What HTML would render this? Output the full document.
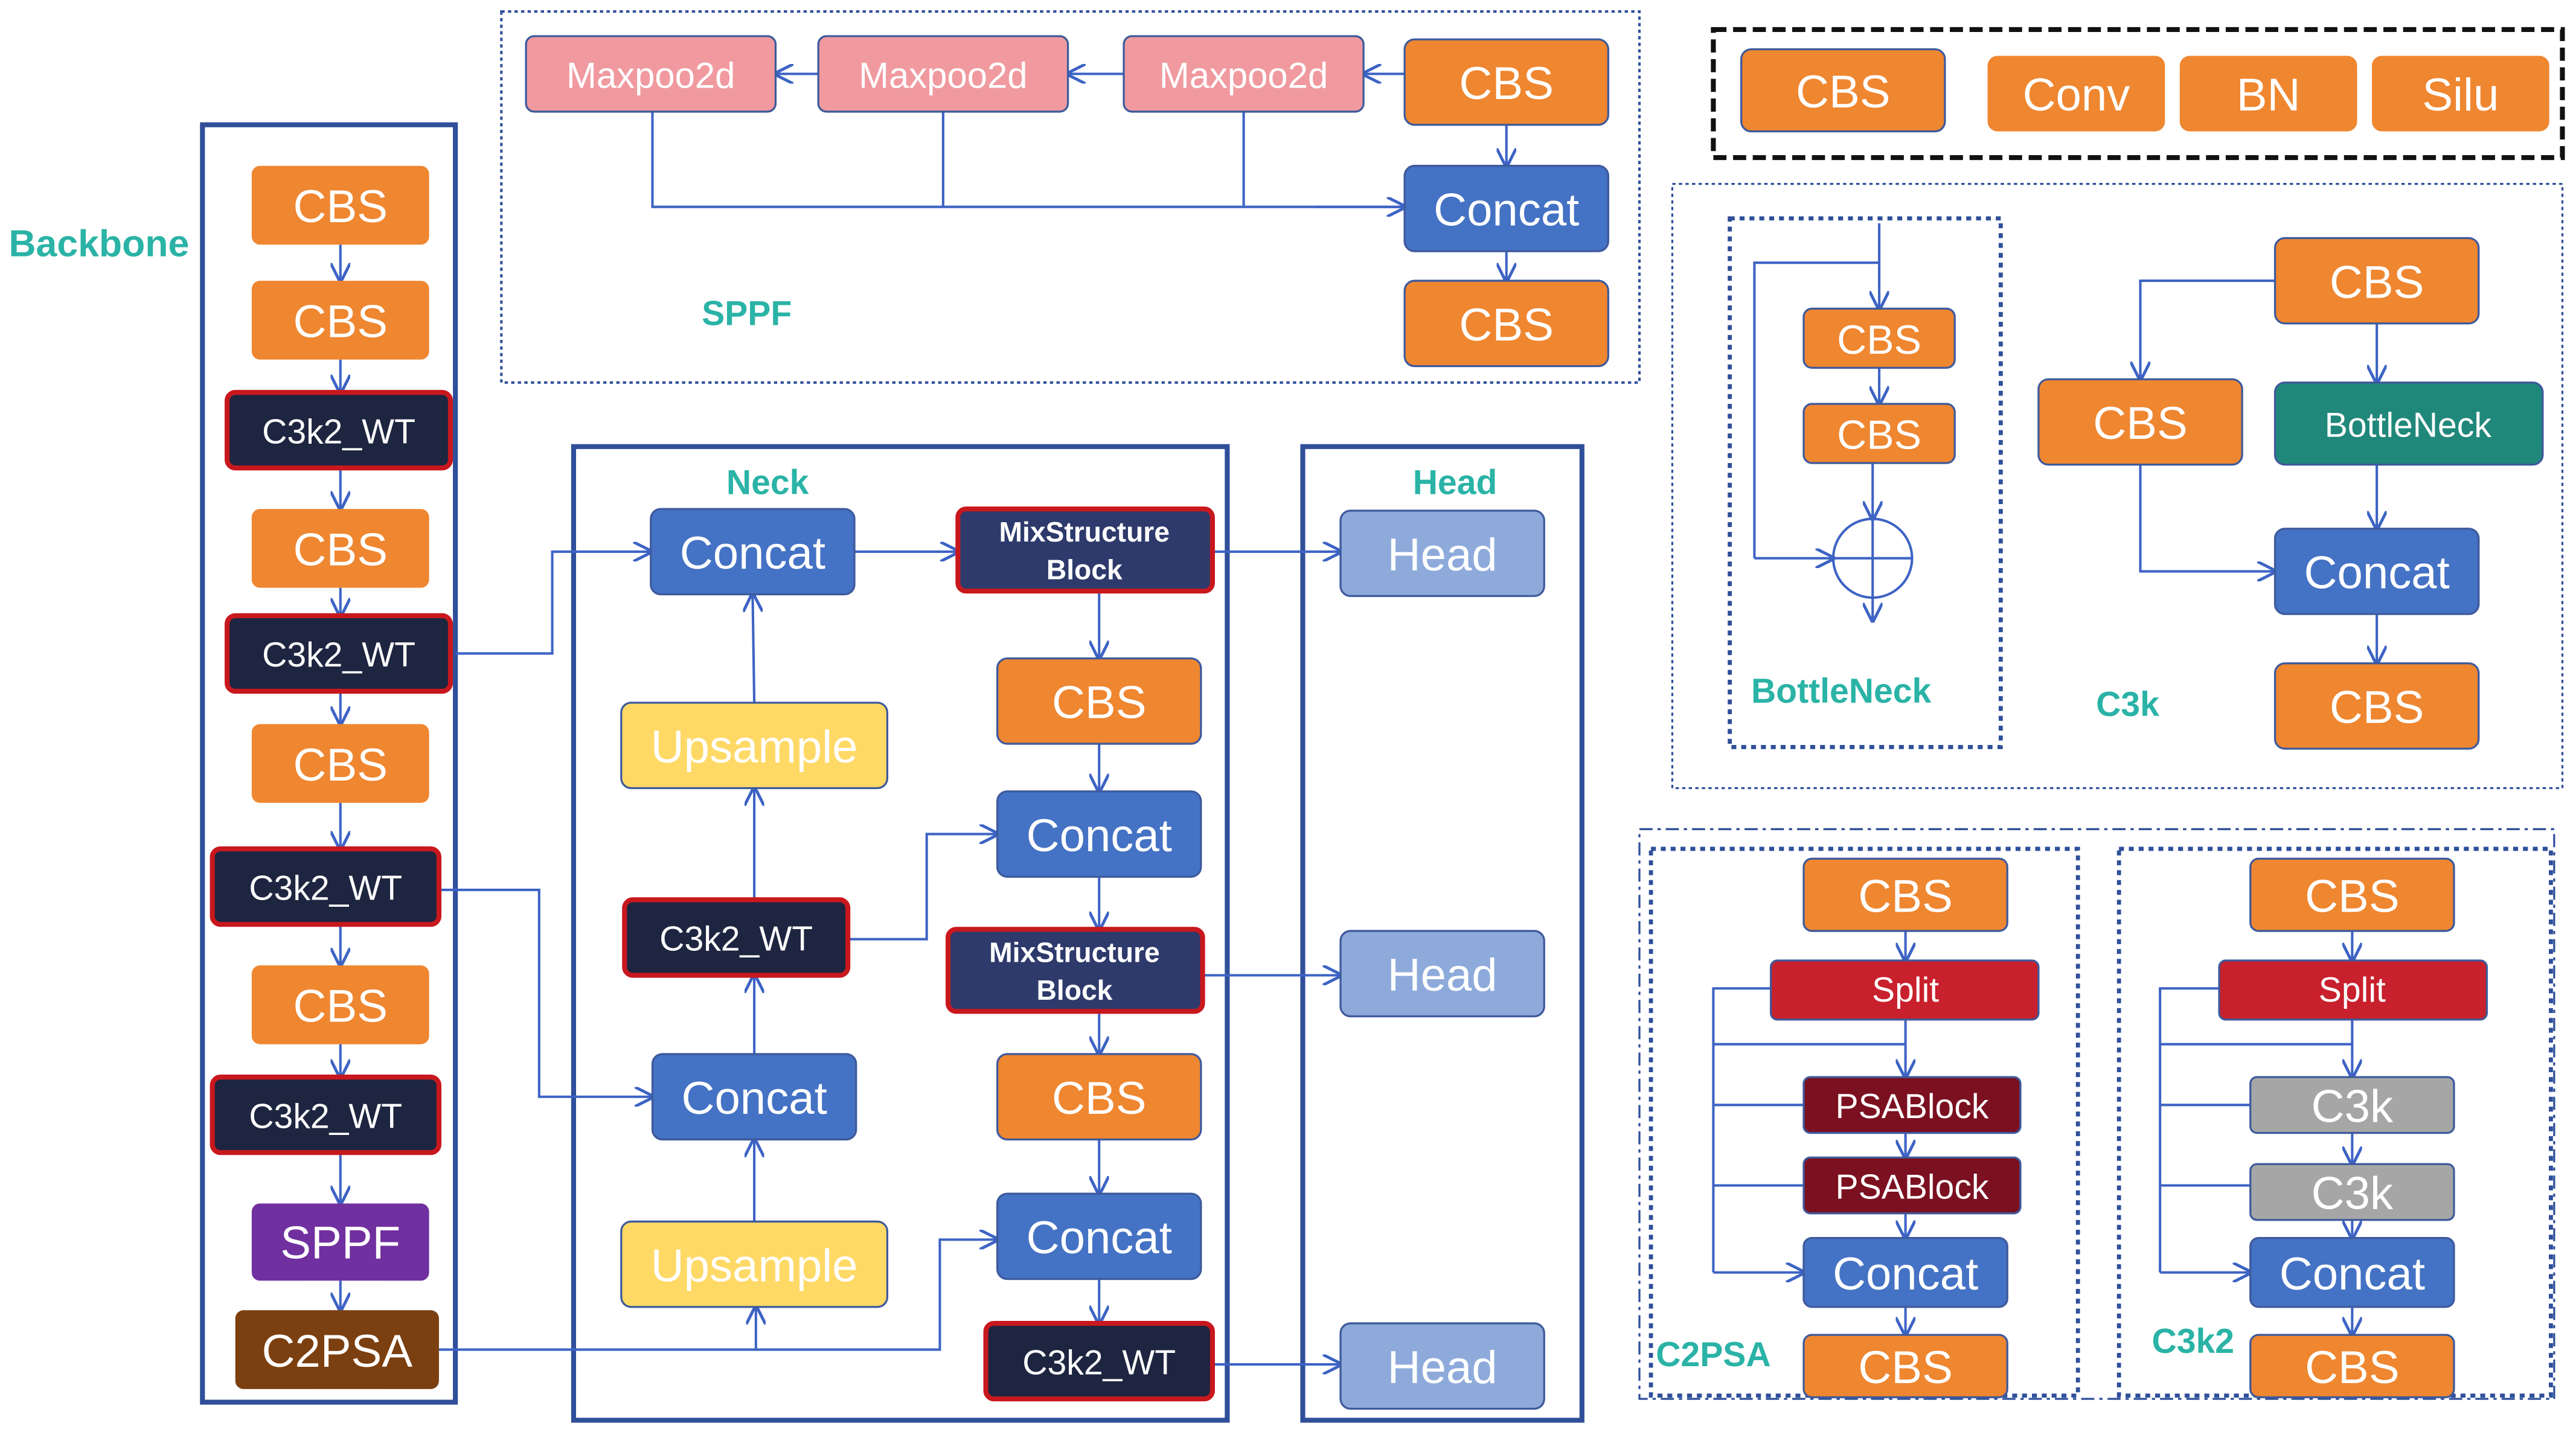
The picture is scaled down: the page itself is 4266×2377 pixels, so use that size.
<!DOCTYPE html>
<html><head><meta charset="utf-8"><style>
html,body{margin:0;padding:0;background:#fff;}
svg{display:block;}
text{font-family:"Liberation Sans",sans-serif;}
.t{fill:#fff;text-anchor:middle;dominant-baseline:central;}
.l{stroke:#3d63c4;stroke-width:1.5;fill:none;}
.a{stroke:#3d63c4;stroke-width:1.5;fill:none;marker-end:url(#ar);}
.lab{fill:#2ab3a6;font-weight:bold;font-size:21px;}
</style></head><body>
<svg width="4266" height="2377" viewBox="0 0 1568 874" xmlns="http://www.w3.org/2000/svg">
<defs><marker id="ar" viewBox="0 0 10 10" refX="9" refY="5" markerWidth="8" markerHeight="8" orient="auto-start-reverse"><path d="M0,0 L10,5 L0,10" fill="none" stroke="#3d63c4" stroke-width="1.5"/></marker></defs>
<rect width="1568" height="874" fill="#fff"/>

<!-- frames -->
<rect x="123" y="76" width="154" height="778" fill="none" stroke="#2f4f9a" stroke-width="3"/>
<rect x="349" y="272" width="398" height="593" fill="none" stroke="#2f4f9a" stroke-width="3"/>
<rect x="793" y="272" width="170" height="593" fill="none" stroke="#2f4f9a" stroke-width="3"/>
<rect x="305" y="7" width="693" height="226" fill="none" stroke="#2f4f9a" stroke-width="1.5" stroke-dasharray="2,2"/>
<rect x="1043" y="18" width="517" height="78" fill="none" stroke="#111" stroke-width="3" stroke-dasharray="8,4"/>
<rect x="1018" y="112" width="542" height="368" fill="none" stroke="#2f4f9a" stroke-width="1.2" stroke-dasharray="2,2"/>
<rect x="1053" y="133" width="165" height="322" fill="none" stroke="#2f4f9a" stroke-width="2.5" stroke-dasharray="3,3"/>
<rect x="998" y="505" width="557" height="347" fill="none" stroke="#2f4f9a" stroke-width="1.2" stroke-dasharray="8,3,2,3"/>
<rect x="1005" y="517" width="260" height="333" fill="none" stroke="#2f4f9a" stroke-width="2.5" stroke-dasharray="3,3"/>
<rect x="1290" y="517" width="263" height="333" fill="none" stroke="#2f4f9a" stroke-width="2.5" stroke-dasharray="3,3"/>

<!-- labels -->
<text x="5" y="156" class="lab" style="font-size:23px">Backbone</text>
<text x="427" y="198" class="lab">SPPF</text>
<text x="442" y="301" class="lab">Neck</text>
<text x="860" y="301" class="lab">Head</text>
<text x="1066" y="428" class="lab">BottleNeck</text>
<text x="1276" y="436" class="lab">C3k</text>
<text x="1008" y="832" class="lab">C2PSA</text>
<text x="1310" y="824" class="lab">C3k2</text>

<!-- connectors -->
<g>
<line class="a" x1="207" y1="149" x2="207" y2="171"/>
<line class="a" x1="207" y1="219" x2="207" y2="239"/>
<line class="a" x1="207" y1="285" x2="207" y2="310"/>
<line class="a" x1="207" y1="358" x2="207" y2="375"/>
<line class="a" x1="207" y1="421" x2="207" y2="441"/>
<line class="a" x1="207" y1="489" x2="207" y2="517"/>
<line class="a" x1="207" y1="563" x2="207" y2="588"/>
<line class="a" x1="207" y1="636" x2="207" y2="656"/>
<line class="a" x1="207" y1="702" x2="207" y2="733"/>
<line class="a" x1="207" y1="780" x2="207" y2="798"/>
<!-- sppf -->
<line class="a" x1="855" y1="45" x2="830" y2="45"/>
<line class="a" x1="684" y1="45" x2="650" y2="45"/>
<line class="a" x1="498" y1="45" x2="472" y2="45"/>
<polyline class="l" points="397,68 397,126 855,126"/>
<line class="l" x1="574" y1="68" x2="574" y2="126"/>
<line class="l" x1="757" y1="68" x2="757" y2="126"/>
<line class="a" x1="800" y1="126" x2="855" y2="126"/>
<line class="a" x1="917" y1="76" x2="917" y2="101"/>
<line class="a" x1="917" y1="153" x2="917" y2="171"/>
<!-- neck -->
<polyline class="a" points="277,398 336,398 336,336 396,336"/>
<polyline class="a" points="267,542 328,542 328,668 397,668"/>
<polyline class="a" points="267,822 460,822 460,796"/>
<polyline class="a" points="460,822 572,822 572,755 607,755"/>
<line class="a" x1="520" y1="336" x2="583" y2="336"/>
<line class="a" x1="738" y1="336" x2="816" y2="336"/>
<line class="a" x1="669" y1="360" x2="669" y2="401"/>
<line class="a" x1="669" y1="453" x2="669" y2="482"/>
<line class="a" x1="669" y1="534" x2="669" y2="566"/>
<line class="a" x1="669" y1="616" x2="669" y2="642"/>
<line class="a" x1="669" y1="694" x2="669" y2="727"/>
<line class="a" x1="669" y1="779" x2="669" y2="806"/>
<line class="a" x1="732" y1="594" x2="816" y2="594"/>
<line class="a" x1="738" y1="831" x2="816" y2="831"/>
<line class="a" x1="459" y1="428" x2="458" y2="362"/>
<line class="a" x1="459" y1="548" x2="459" y2="480"/>
<line class="a" x1="459" y1="642" x2="459" y2="594"/>
<line class="a" x1="459" y1="744" x2="459" y2="694"/>
<polyline class="a" points="516,572 564,572 564,508 607,508"/>
<!-- bottleneck -->
<line class="a" x1="1144" y1="136" x2="1144" y2="188"/>
<polyline class="l" points="1144,160 1068,160 1068,340"/>
<line class="a" x1="1068" y1="340" x2="1116" y2="340"/>
<line class="a" x1="1144" y1="224" x2="1144" y2="246"/>
<line class="a" x1="1140" y1="282" x2="1140" y2="316"/>
<line class="a" x1="1140" y1="364" x2="1140" y2="378"/>
<circle cx="1140" cy="340" r="24" fill="none" stroke="#3d63c4" stroke-width="1.5"/>
<line class="l" x1="1116" y1="340" x2="1164" y2="340"/><line class="l" x1="1140" y1="316" x2="1140" y2="364"/>
<!-- c3k -->
<polyline class="a" points="1385,171 1303,171 1303,231"/>
<line class="a" x1="1447" y1="197" x2="1447" y2="233"/>
<line class="a" x1="1447" y1="283" x2="1447" y2="322"/>
<polyline class="a" points="1303,283 1303,348 1385,348"/>
<line class="a" x1="1447" y1="374" x2="1447" y2="404"/>
<!-- c2psa -->
<line class="a" x1="1160" y1="567" x2="1160" y2="585"/>
<line class="a" x1="1160" y1="621" x2="1160" y2="656"/>
<line class="a" x1="1160" y1="690" x2="1160" y2="705"/>
<line class="a" x1="1160" y1="739" x2="1160" y2="754"/>
<line class="a" x1="1160" y1="796" x2="1160" y2="813"/>
<polyline class="l" points="1078,602 1043,602 1043,775"/>
<line class="l" x1="1043" y1="636" x2="1160" y2="636"/>
<line class="l" x1="1043" y1="673" x2="1098" y2="673"/>
<line class="l" x1="1043" y1="722" x2="1098" y2="722"/>
<line class="a" x1="1043" y1="775" x2="1098" y2="775"/>
<!-- c3k2 -->
<line class="a" x1="1432" y1="567" x2="1432" y2="585"/>
<line class="a" x1="1432" y1="621" x2="1432" y2="656"/>
<line class="a" x1="1432" y1="690" x2="1432" y2="709"/>
<line class="a" x1="1432" y1="743" x2="1432" y2="754"/>
<line class="a" x1="1432" y1="796" x2="1432" y2="813"/>
<polyline class="l" points="1351,602 1315,602 1315,775"/>
<line class="l" x1="1315" y1="636" x2="1432" y2="636"/>
<line class="l" x1="1315" y1="673" x2="1370" y2="673"/>
<line class="l" x1="1315" y1="722" x2="1370" y2="722"/>
<line class="a" x1="1315" y1="775" x2="1370" y2="775"/>
</g>

<!-- nodes -->
<g stroke="#3e5a9c" stroke-width="1.2">
<rect x="153" y="101" width="108" height="48" rx="5" fill="#ef8630" stroke="none"/>
<rect x="153" y="171" width="108" height="48" rx="5" fill="#ef8630" stroke="none"/>
<rect x="138" y="239" width="136" height="46" rx="5" fill="#1e2540" stroke="#c8181e" stroke-width="3"/>
<rect x="153" y="310" width="108" height="48" rx="5" fill="#ef8630" stroke="none"/>
<rect x="138" y="375" width="136" height="46" rx="5" fill="#1e2540" stroke="#c8181e" stroke-width="3"/>
<rect x="153" y="441" width="108" height="48" rx="5" fill="#ef8630" stroke="none"/>
<rect x="129" y="517" width="138" height="46" rx="5" fill="#1e2540" stroke="#c8181e" stroke-width="3"/>
<rect x="153" y="588" width="108" height="48" rx="5" fill="#ef8630" stroke="none"/>
<rect x="129" y="656" width="138" height="46" rx="5" fill="#1e2540" stroke="#c8181e" stroke-width="3"/>
<rect x="153" y="733" width="108" height="47" rx="5" fill="#7030a0" stroke="none"/>
<rect x="143" y="798" width="124" height="48" rx="5" fill="#7b3f10" stroke="none"/>
<rect x="320" y="22" width="152" height="46" rx="5" fill="#f09aa0"/>
<rect x="498" y="22" width="152" height="46" rx="5" fill="#f09aa0"/>
<rect x="684" y="22" width="146" height="46" rx="5" fill="#f09aa0"/>
<rect x="855" y="24" width="124" height="52" rx="6" fill="#ef8630"/>
<rect x="855" y="101" width="124" height="52" rx="6" fill="#4472c4"/>
<rect x="855" y="171" width="124" height="52" rx="6" fill="#ef8630"/>
<rect x="1060" y="30" width="124" height="50" rx="6" fill="#ef8630"/>
<rect x="1210" y="34" width="108" height="46" rx="6" fill="#ef8630" stroke="none"/>
<rect x="1327" y="34" width="108" height="46" rx="6" fill="#ef8630" stroke="none"/>
<rect x="1444" y="34" width="108" height="46" rx="6" fill="#ef8630" stroke="none"/>
<rect x="1098" y="188" width="92" height="36" rx="5" fill="#ef8630"/>
<rect x="1098" y="246" width="92" height="36" rx="5" fill="#ef8630"/>
<rect x="1385" y="145" width="124" height="52" rx="6" fill="#ef8630"/>
<rect x="1241" y="231" width="124" height="52" rx="6" fill="#ef8630"/>
<rect x="1385" y="233" width="163" height="50" rx="6" fill="#20887a"/>
<rect x="1385" y="322" width="124" height="52" rx="6" fill="#4472c4"/>
<rect x="1385" y="404" width="124" height="52" rx="6" fill="#ef8630"/>
<rect x="396" y="310" width="124" height="52" rx="6" fill="#4472c4"/>
<rect x="583" y="310" width="155" height="50" rx="5" fill="#2e3a6b" stroke="#c8181e" stroke-width="3"/>
<rect x="607" y="401" width="124" height="52" rx="6" fill="#ef8630"/>
<rect x="378" y="428" width="162" height="52" rx="6" fill="#ffd966"/>
<rect x="607" y="482" width="124" height="52" rx="6" fill="#4472c4"/>
<rect x="380" y="548" width="136" height="46" rx="5" fill="#1e2540" stroke="#c8181e" stroke-width="3"/>
<rect x="577" y="566" width="155" height="50" rx="5" fill="#2e3a6b" stroke="#c8181e" stroke-width="3"/>
<rect x="607" y="642" width="124" height="52" rx="6" fill="#ef8630"/>
<rect x="397" y="642" width="124" height="52" rx="6" fill="#4472c4"/>
<rect x="378" y="744" width="162" height="52" rx="6" fill="#ffd966"/>
<rect x="607" y="727" width="124" height="52" rx="6" fill="#4472c4"/>
<rect x="600" y="806" width="138" height="46" rx="5" fill="#1e2540" stroke="#c8181e" stroke-width="3"/>
<rect x="816" y="311" width="124" height="52" rx="6" fill="#8eaadb"/>
<rect x="816" y="567" width="124" height="52" rx="6" fill="#8eaadb"/>
<rect x="816" y="806" width="124" height="52" rx="6" fill="#8eaadb"/>
<rect x="1098" y="523" width="124" height="44" rx="5" fill="#ef8630"/>
<rect x="1078" y="585" width="163" height="36" rx="4" fill="#c8202c"/>
<rect x="1098" y="656" width="132" height="34" rx="4" fill="#7b1020"/>
<rect x="1098" y="705" width="132" height="34" rx="4" fill="#7b1020"/>
<rect x="1098" y="754" width="124" height="42" rx="5" fill="#4472c4"/>
<rect x="1098" y="813" width="124" height="38" rx="5" fill="#ef8630"/>
<rect x="1370" y="523" width="124" height="44" rx="5" fill="#ef8630"/>
<rect x="1351" y="585" width="163" height="36" rx="4" fill="#c8202c"/>
<rect x="1370" y="656" width="124" height="34" rx="4" fill="#a6a6a6"/>
<rect x="1370" y="709" width="124" height="34" rx="4" fill="#a6a6a6"/>
<rect x="1370" y="754" width="124" height="42" rx="5" fill="#4472c4"/>
<rect x="1370" y="813" width="124" height="38" rx="5" fill="#ef8630"/>
</g>

<!-- node text -->
<g font-size="28">
<text class="t" x="207" y="126">CBS</text>
<text class="t" x="207" y="196">CBS</text>
<text class="t" x="206" y="263" font-size="21">C3k2_WT</text>
<text class="t" x="207" y="335">CBS</text>
<text class="t" x="206" y="399" font-size="21">C3k2_WT</text>
<text class="t" x="207" y="466">CBS</text>
<text class="t" x="198" y="541" font-size="21">C3k2_WT</text>
<text class="t" x="207" y="613">CBS</text>
<text class="t" x="198" y="680" font-size="21">C3k2_WT</text>
<text class="t" x="207" y="757">SPPF</text>
<text class="t" x="205" y="823">C2PSA</text>
<text class="t" x="396" y="46" font-size="22">Maxpoo2d</text>
<text class="t" x="574" y="46" font-size="22">Maxpoo2d</text>
<text class="t" x="757" y="46" font-size="22">Maxpoo2d</text>
<text class="t" x="917" y="51">CBS</text>
<text class="t" x="917" y="128">Concat</text>
<text class="t" x="917" y="198">CBS</text>
<text class="t" x="1122" y="56">CBS</text>
<text class="t" x="1264" y="58">Conv</text>
<text class="t" x="1381" y="58">BN</text>
<text class="t" x="1498" y="58">Silu</text>
<text class="t" x="1144" y="207" font-size="25">CBS</text>
<text class="t" x="1144" y="265" font-size="25">CBS</text>
<text class="t" x="1447" y="172">CBS</text>
<text class="t" x="1303" y="258">CBS</text>
<text class="t" x="1466" y="259" font-size="21">BottleNeck</text>
<text class="t" x="1447" y="349">Concat</text>
<text class="t" x="1447" y="431">CBS</text>
<text class="t" x="458" y="337">Concat</text>
<text class="t" x="660" y="324" font-size="17" font-weight="bold">MixStructure</text>
<text class="t" x="660" y="347" font-size="17" font-weight="bold">Block</text>
<text class="t" x="669" y="428">CBS</text>
<text class="t" x="459" y="455">Upsample</text>
<text class="t" x="669" y="509">Concat</text>
<text class="t" x="448" y="572" font-size="21">C3k2_WT</text>
<text class="t" x="654" y="580" font-size="17" font-weight="bold">MixStructure</text>
<text class="t" x="654" y="603" font-size="17" font-weight="bold">Block</text>
<text class="t" x="669" y="669">CBS</text>
<text class="t" x="459" y="669">Concat</text>
<text class="t" x="459" y="771">Upsample</text>
<text class="t" x="669" y="754">Concat</text>
<text class="t" x="669" y="830" font-size="21">C3k2_WT</text>
<text class="t" x="878" y="338">Head</text>
<text class="t" x="878" y="594">Head</text>
<text class="t" x="878" y="833">Head</text>
<text class="t" x="1160" y="546">CBS</text>
<text class="t" x="1160" y="603" font-size="21">Split</text>
<text class="t" x="1164" y="674" font-size="21">PSABlock</text>
<text class="t" x="1164" y="723" font-size="21">PSABlock</text>
<text class="t" x="1160" y="776">Concat</text>
<text class="t" x="1160" y="833">CBS</text>
<text class="t" x="1432" y="546">CBS</text>
<text class="t" x="1432" y="603" font-size="21">Split</text>
<text class="t" x="1432" y="674">C3k</text>
<text class="t" x="1432" y="727">C3k</text>
<text class="t" x="1432" y="776">Concat</text>
<text class="t" x="1432" y="833">CBS</text>
</g>
</svg>
</body></html>
